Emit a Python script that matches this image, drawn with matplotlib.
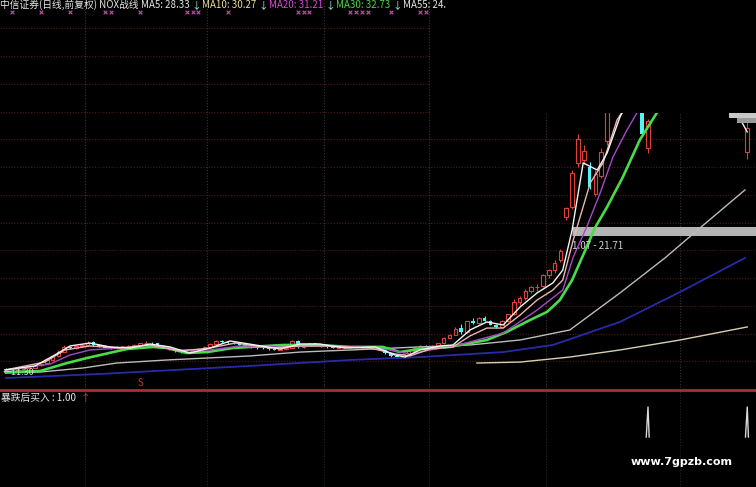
import matplotlib
matplotlib.use("Agg")
import matplotlib.pyplot as plt
import matplotlib.transforms as mtransforms
from matplotlib.patches import Rectangle
import numpy as np

plt.rcParams['font.family'] = ['Noto Sans CJK SC', 'DejaVu Sans']

# ---- 日线 K 线 (前复权) ----
opens = [11.45, 11.40, 11.38, 11.44, 11.50, 11.56, 11.72, 11.86, 12.12, 12.42,
         12.72, 13.08, 12.96, 13.10, 13.20, 13.40, 13.18, 13.10, 13.00, 12.95,
         13.05, 13.10, 13.15, 13.20, 13.30, 13.36, 13.30, 13.14, 13.00, 12.90,
         12.74, 12.65, 12.70, 12.80, 12.92, 13.05, 13.26, 13.46, 13.40, 13.36,
         13.30, 13.20, 13.10, 13.05, 13.00, 12.95, 12.90, 12.84, 12.90, 12.96,
         13.50, 13.04, 13.16, 13.30, 13.24, 13.10, 13.05, 13.00, 13.05, 13.10,
         13.05, 13.10, 13.05, 13.00, 13.04, 12.85, 12.60, 12.40, 12.35, 12.56,
         12.76, 12.96, 13.15, 13.10, 13.15, 13.30, 13.72, 13.92, 14.40, 14.12,
         14.95, 14.76, 15.12, 14.95, 14.66, 14.52, 14.92, 15.42, 16.30, 16.55,
         17.10, 17.35, 17.45, 18.20, 18.60, 19.30, 22.40, 23.10, 26.30, 26.50,
         26.00, 24.10, 25.40, 27.90, 30.40, 32.60, 34.00, 33.20, 33.60, 31.00,
         27.40, 30.20, 31.90, 33.30, 34.80, 35.60, 36.00, 34.80, 35.40, 34.00,
         33.40, 32.80, 33.40, 32.00, 31.50, 31.00, 30.60, 27.10]
highs = [11.50, 11.48, 11.50, 11.56, 11.60, 11.75, 11.90, 12.18, 12.48, 12.85,
         13.22, 13.15, 13.18, 13.26, 13.50, 13.48, 13.25, 13.16, 13.06, 13.10,
         13.14, 13.20, 13.26, 13.36, 13.45, 13.42, 13.34, 13.20, 13.04, 12.95,
         12.80, 12.76, 12.84, 12.96, 13.10, 13.30, 13.55, 13.52, 13.46, 13.40,
         13.34, 13.25, 13.14, 13.08, 13.04, 12.98, 12.94, 12.95, 13.00, 13.55,
         13.56, 13.20, 13.36, 13.34, 13.28, 13.14, 13.08, 13.10, 13.15, 13.14,
         13.14, 13.14, 13.08, 13.08, 13.08, 12.88, 12.64, 12.45, 12.60, 12.80,
         13.00, 13.20, 13.18, 13.20, 13.36, 13.75, 13.95, 14.45, 14.70, 14.95,
         15.15, 15.20, 15.30, 15.00, 14.70, 15.00, 15.45, 16.50, 16.70, 17.20,
         17.45, 17.55, 18.30, 18.70, 19.30, 20.10, 23.10, 25.80, 28.40, 27.60,
         26.40, 25.80, 27.40, 30.50, 33.00, 34.50, 35.20, 34.00, 34.20, 31.40,
         29.50, 32.20, 33.60, 35.00, 36.40, 37.20, 36.50, 36.00, 35.80, 34.60,
         33.80, 34.00, 33.60, 32.60, 32.00, 31.60, 31.00, 29.50]
lows = [11.30, 11.33, 11.36, 11.40, 11.46, 11.52, 11.66, 11.80, 12.05, 12.36,
        12.68, 12.88, 12.90, 13.02, 13.14, 13.15, 13.02, 12.94, 12.88, 12.90,
        12.98, 13.04, 13.08, 13.15, 13.24, 13.22, 13.10, 12.96, 12.84, 12.70,
        12.58, 12.60, 12.66, 12.76, 12.88, 13.00, 13.20, 13.32, 13.28, 13.24,
        13.14, 13.06, 12.98, 12.92, 12.90, 12.85, 12.80, 12.80, 12.86, 12.94,
        13.00, 13.00, 13.10, 13.18, 13.06, 13.00, 12.96, 12.96, 13.00, 13.00,
        13.00, 13.00, 12.96, 12.96, 12.80, 12.55, 12.35, 12.25, 12.30, 12.50,
        12.70, 12.92, 13.04, 13.06, 13.10, 13.25, 13.66, 13.88, 14.00, 14.08,
        14.70, 14.70, 14.90, 14.60, 14.40, 14.48, 14.85, 15.38, 16.10, 16.40,
        16.95, 17.10, 17.40, 18.05, 18.40, 19.20, 22.20, 23.00, 26.00, 26.20,
        24.40, 23.90, 25.20, 27.60, 30.00, 31.80, 32.60, 32.40, 31.20, 28.20,
        27.00, 30.00, 31.40, 32.80, 34.00, 35.00, 34.20, 34.20, 33.80, 32.90,
        32.20, 32.50, 31.60, 31.00, 30.50, 30.20, 30.00, 26.60]
closes = [11.42, 11.38, 11.45, 11.50, 11.55, 11.70, 11.85, 12.10, 12.40, 12.70,
          13.05, 12.95, 13.10, 13.20, 13.35, 13.20, 13.10, 13.00, 12.95, 13.05,
          13.10, 13.15, 13.20, 13.30, 13.35, 13.30, 13.15, 13.00, 12.90, 12.75,
          12.65, 12.70, 12.80, 12.90, 13.05, 13.25, 13.45, 13.40, 13.35, 13.30,
          13.20, 13.10, 13.05, 13.00, 12.95, 12.90, 12.85, 12.90, 12.95, 13.50,
          13.05, 13.15, 13.30, 13.25, 13.10, 13.05, 13.00, 13.05, 13.10, 13.05,
          13.10, 13.05, 13.00, 13.05, 12.85, 12.60, 12.40, 12.35, 12.55, 12.75,
          12.95, 13.15, 13.10, 13.15, 13.30, 13.70, 13.90, 14.35, 14.10, 14.90,
          14.75, 15.10, 14.95, 14.65, 14.50, 14.90, 15.40, 16.30, 16.55, 17.10,
          17.35, 17.40, 18.20, 18.60, 19.10, 19.95, 23.05, 25.60, 28.00, 27.20,
          24.60, 25.50, 27.10, 30.20, 32.40, 33.80, 33.10, 33.60, 31.40, 28.40,
          29.30, 31.80, 33.20, 34.60, 35.60, 36.20, 34.80, 35.60, 34.20, 33.40,
          32.80, 33.60, 32.00, 31.50, 31.00, 30.60, 30.30, 28.80]

# ---- 均线, 图上读出的折点 (K线序号, 价格) ----
ma5_x = [0, 5.0, 8.4, 11.0, 14.4, 17.8, 21.3, 24.7, 28.1, 31.5, 35.0, 38.4, 42.7,
         47.0, 50.4, 53.8, 58.1, 63.2, 66.7, 68.4, 70.9, 74.4, 76.6, 79.5, 82.4,
         85.2, 88.1, 91.0, 93.7, 95.4, 97.0, 98.9, 101.3, 103.0, 105.2, 108.6,
         117.2, 124.0, 125.2, 127.0]
ma5_y = [11.40, 11.68, 12.47, 13.12, 13.33, 13.05, 12.97, 13.26, 13.05, 12.61,
         12.97, 13.48, 13.19, 12.90, 13.26, 13.26, 12.97, 13.05, 12.47, 12.32,
         12.83, 13.12, 13.19, 14.27, 14.85, 14.63, 15.93, 16.94, 17.66, 18.59,
         21.48, 26.31, 25.80, 27.03, 29.62, 32.30, 34.40, 30.49, 29.91, 28.54]
ma10_x = [0, 6.7, 10.1, 14.4, 19.6, 24.7, 29.8, 35.0, 39.3, 45.2, 50.4, 55.5, 62.4,
          66.7, 69.2, 72.7, 76.6, 79.5, 82.4, 85.2, 88.1, 91.0, 93.7, 95.4, 97.2,
          100.1, 102.3, 104.7, 108.6, 118.9, 127.0]
ma10_y = [11.40, 11.96, 12.83, 13.12, 12.97, 13.19, 12.76, 12.97, 13.33, 12.97,
          13.12, 13.12, 12.97, 12.54, 12.40, 12.90, 13.05, 13.84, 14.41, 14.41,
          15.35, 16.43, 17.15, 17.87, 20.76, 24.86, 26.31, 29.41, 31.93, 33.70,
          30.27]
ma20_x = [0, 7.6, 11.0, 14.4, 19.6, 24.7, 29.8, 35.0, 40.1, 47.0, 53.8, 60.7, 65.8,
          69.2, 72.7, 76.9, 79.5, 85.2, 91.0, 95.4, 97.2, 99.5, 101.8, 104.0,
          106.4, 108.1, 117.2, 127.0]
ma20_y = [11.35, 11.82, 12.47, 12.83, 12.97, 13.19, 12.83, 12.83, 13.12, 13.05,
          13.12, 13.05, 12.83, 12.54, 12.83, 13.12, 13.41, 14.05, 15.71, 17.15,
          19.53, 21.70, 24.14, 26.74, 28.68, 29.91, 32.65, 31.21]
ma30_x = [0, 5.85, 7.6, 10.5, 13.9, 18.4, 20.8, 25.2, 27.6, 31.0, 34.5, 38.9, 41.8,
          47.5, 53.3, 59.0, 64.6, 67.5, 70.9, 76.1, 82.4, 85.8, 89.8, 92.7, 94.9,
          97.0, 98.9, 100.9, 103.0, 105.7, 108.6, 111.5, 117.2, 127.0]
ma30_y = [11.24, 11.31, 11.53, 11.89, 12.25, 12.68, 12.90, 13.05, 12.97, 12.61,
          12.68, 12.97, 13.05, 13.19, 13.19, 13.05, 13.05, 12.68, 12.90, 13.05,
          13.55, 14.13, 14.99, 15.57, 16.43, 17.87, 19.68, 21.62, 23.14, 25.30,
          27.97, 29.91, 32.65, 32.73]
ma55_x = [0, 5.85, 13.2, 19.0, 27.6, 34.5, 41.8, 50.4, 59.0, 70.9, 79.5, 88.1,
          96.6, 105.2, 112.9, 118.9, 126.6]
ma55_y = [11.17, 11.24, 11.53, 11.89, 12.11, 12.25, 12.40, 12.68, 12.83, 13.05,
          13.19, 13.55, 14.27, 16.94, 19.46, 21.62, 24.36]
ma120_x = [0, 16.1, 41.8, 59.0, 70.9, 85.2, 93.7, 105.2, 115.5, 126.6]
ma120_y = [10.81, 11.10, 11.68, 12.11, 12.32, 12.68, 13.19, 14.85, 17.01, 19.46]
ma250_x = [80.7, 88.1, 96.6, 105.2, 115.5, 127.0]
ma250_y = [11.89, 11.96, 12.32, 12.83, 13.55, 14.49]

grid_prices = [12, 14, 16, 18, 20, 22, 24, 26, 28, 30, 32, 34, 36]
month_lines = [13.5, 34.5, 54.5, 72.5, 92.5, 115.5]
cross_bars = [1, 6, 11, 17, 18, 23, 31, 32, 33, 38, 50, 51, 52, 59, 60, 61, 62,
              66, 71, 72]
sell_bar = 23
signal_bars = [110, 127]
level_price = 21.40
level_start = 97

# 标题: (文字, 颜色)
title_parts = [
    ("中信证券(日线,前复权) NOX战线", '#e6e6e6'),
    ("MA5: 28.33", '#e6e6e6'),
    ("↓", '#a0f8f8'),
    ("MA10: 30.27", '#e8dc98'),
    ("↓", '#a0f8f8'),
    ("MA20: 31.21", '#d848d8'),
    ("↓", '#a0f8f8'),
    ("MA30: 32.73", '#48d848'),
    ("↓", '#a0f8f8'),
    ("MA55: 24.", '#e6e6e6'),
]

RED = '#e0403c'
CYAN = '#54f4f4'
N = len(closes)

fig = plt.figure(figsize=(7.56, 4.87), dpi=100, facecolor='black')
ax = fig.add_axes([0, 97/487, 1, 390/487], facecolor='black')
ax2 = fig.add_axes([0, 0, 1, 97/487], facecolor='black')

ax.set_xlim(-1, N + 0.5)
ax.set_ylim(9.946, 38.05)
ax2.set_xlim(-1, N + 0.5)
ax2.set_ylim(-1.667, 1.567)
for a in (ax, ax2):
    a.set_xticks([])
    a.set_yticks([])
    for s in a.spines.values():
        s.set_visible(False)
ax2.spines['top'].set_visible(True)
ax2.spines['top'].set_color('#b02a36')
ax2.spines['top'].set_linewidth(2)

# 网格
ax.hlines(grid_prices, -1, N + 0.5, colors='#501818', linestyles=(0, (1, 1.5)), lw=0.8, zorder=1)
ax.vlines(month_lines, 9.946, 38.05, colors='#443030', linestyles=(0, (1, 1.5)), lw=0.8, zorder=1)
ax2.vlines(month_lines, -1.667, 1.567, colors='#2a2222', linestyles=(0, (1, 1.5)), lw=0.8, zorder=1)

# K线
o = np.array(opens)
h = np.array(highs)
l = np.array(lows)
c = np.array(closes)
idx = np.arange(N)
up = c >= o
ax.vlines(idx[up], l[up], h[up], color=RED, lw=0.8, zorder=2)
ax.vlines(idx[~up], l[~up], h[~up], color=CYAN, lw=0.8, zorder=2)
ax.bar(idx[up], c[up] - o[up], bottom=o[up], width=0.62, facecolor='black',
       edgecolor=RED, lw=0.8, zorder=2.1)
ax.bar(idx[~up], o[~up] - c[~up], bottom=c[~up], width=0.62, color=CYAN, lw=0, zorder=2.1)

# 价位线
ax.hlines(level_price, level_start, N + 0.5, color='#b4b4b4', lw=6.5, zorder=2.5)
ax.text(level_start - 0.1, 20.32, "1.07 - 21.71", color='#d4d4d4', fontsize=7,
        va='center', ha='left', zorder=6)

# 均线
ax.plot(ma250_x, ma250_y, color='#d8d0b0', lw=1.0, zorder=3)
ax.plot(ma120_x, ma120_y, color='#2a2aa8', lw=1.3, zorder=3)
ax.plot(ma55_x, ma55_y, color='#bcbcbc', lw=1.0, zorder=3)
ax.plot(ma30_x, ma30_y, color='#48dc48', lw=1.9, zorder=3.5)
ax.plot(ma20_x, ma20_y, color='#a848c8', lw=1.0, zorder=3.6)
ax.plot(ma10_x, ma10_y, color='#e8b8b0', lw=1.0, zorder=3.7)
ax.plot(ma5_x, ma5_y, color='#f4f4f4', lw=1.0, zorder=3.8)

# 信号标记
ax.text(sell_bar, 10.45, "S", color='#c83030', fontsize=7, ha='center', va='center', zorder=6)
trans = mtransforms.blended_transform_factory(ax.transData, ax.transAxes)
ax.scatter(cross_bars, [0.969] * len(cross_bars), transform=trans, marker='x',
           s=7, lw=0.8, color='#c050a8', zorder=12)

# 顶部右侧被遮住的区域
ax.add_patch(Rectangle((430/756, (390 - 113)/390), 1, 1, transform=ax.transAxes,
                       facecolor='black', edgecolor='none', zorder=10))
ax.add_patch(Rectangle((729/756, (390 - 118)/390), 1, 5/390, transform=ax.transAxes,
                       facecolor='#c8c8c8', edgecolor='none', zorder=11))
ax.add_patch(Rectangle((737/756, (390 - 123)/390), 1, 5/390, transform=ax.transAxes,
                       facecolor='#9a9a9a', edgecolor='none', zorder=11))

# 下方指标
for b in signal_bars:
    ax2.plot([b - 0.3, b, b + 0.2], [0, 1, 0], color='#d8d8d8', lw=1.0)

# 标题行, 一段接一段排
renderer = fig.canvas.get_renderer()
px = 0
for txt, col in title_parts:
    t = fig.text(px/756, 1 - 8/487, txt, color=col, fontsize=7, va='baseline', ha='left')
    bb = t.get_window_extent(renderer=renderer)
    gap = 1 if txt == "↓" else 2
    px = bb.x1 + gap

fig.text(3/756, 1 - 372.5/487, "←11.30", color='#d8d8d8', fontsize=6.5, va='center', ha='left')
fig.text(1/756, 1 - 398/487, "暴跌后买入 : 1.00", color='#e8e8e8', fontsize=7, va='center', ha='left')
fig.text(80/756, 1 - 398/487, "↑", color='#e04040', fontsize=7, va='center', ha='left')
fig.text(682/756, 1 - 462/487, "www.7gpzb.com", color='white', fontsize=8,
         fontweight='bold', family='DejaVu Sans', ha='center', va='center')

fig.savefig('out.png', dpi=100, facecolor='black')
